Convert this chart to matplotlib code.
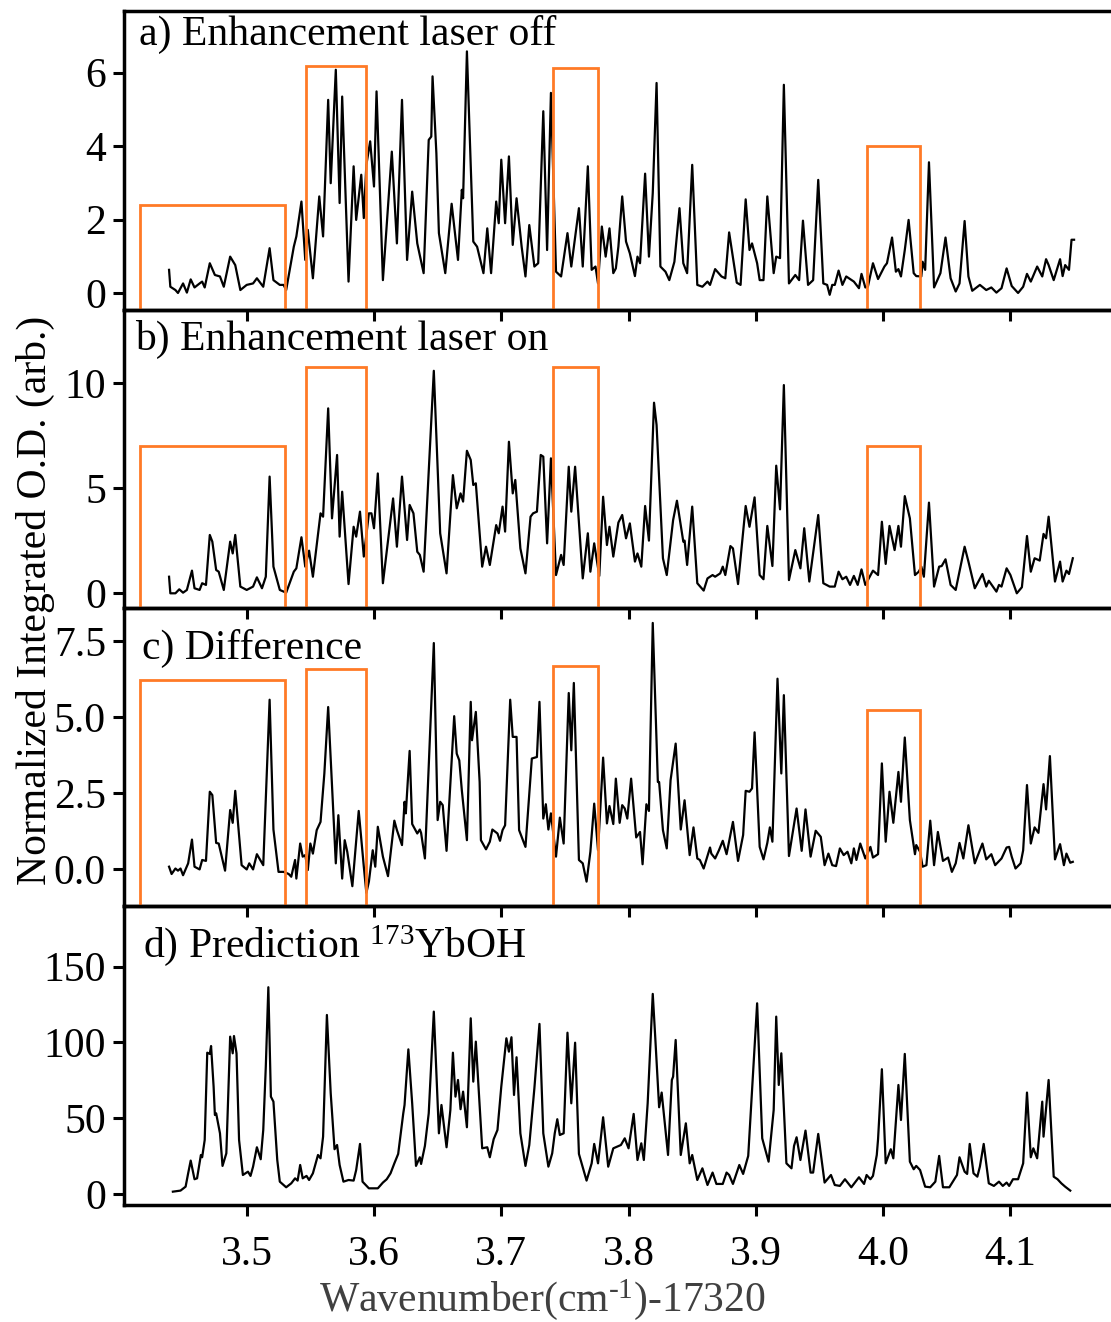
import matplotlib
matplotlib.use("Agg")
import matplotlib.pyplot as plt
from matplotlib.patches import Rectangle
from matplotlib.ticker import FormatStrFormatter

plt.rcParams['font.family'] = ['Liberation Serif', 'DejaVu Serif']
plt.rcParams['mathtext.fontset'] = 'custom'
plt.rcParams['mathtext.rm'] = 'Liberation Serif'
plt.rcParams['mathtext.it'] = 'Liberation Serif:italic'

# ---------------- data (wavenumber offset, value) ----------------
spec_a = [(3.439,0.63),(3.440,0.17),(3.444,0.08),(3.446,0.00),(3.450,0.26),(3.453,0.01),(3.456,0.37),(3.459,0.15),
          (3.463,0.26),(3.465,0.31),(3.467,0.15),(3.471,0.81),(3.475,0.49),(3.479,0.45),(3.482,0.17),(3.487,0.99),
          (3.491,0.76),(3.495,0.08),(3.500,0.22),(3.505,0.26),(3.508,0.40),(3.513,0.17),(3.518,1.22),(3.521,0.35),
          (3.526,0.22),(3.529,0.22),(3.531,0.08),(3.537,1.26),(3.539,1.54),(3.543,2.49),(3.546,0.90),(3.548,1.72),
          (3.552,0.40),(3.557,2.63),(3.560,1.54),(3.564,5.26),(3.566,2.99),(3.570,6.08),(3.573,2.45),(3.575,5.35),
          (3.580,0.31),(3.584,3.45),(3.586,1.99),(3.590,3.22),(3.592,2.04),(3.594,3.49),(3.597,4.13),(3.600,2.90),
          (3.602,5.49),(3.607,0.35),(3.614,3.85),(3.618,1.35),(3.622,5.26),(3.626,0.90),(3.630,2.76),(3.634,1.35),
          (3.639,0.54),(3.643,4.17),(3.645,4.26),(3.646,5.90),(3.649,3.81),(3.651,1.63),(3.656,0.54),(3.661,2.43),
          (3.666,0.90),(3.669,2.81),(3.670,2.58),(3.673,6.58),(3.678,1.40),(3.681,1.26),(3.686,0.54),(3.689,1.76),
          (3.692,0.54),(3.696,2.49),(3.698,1.90),(3.700,3.63),(3.703,1.90),(3.706,3.72),(3.709,1.31),(3.712,2.58),
          (3.716,1.26),(3.719,0.45),(3.722,1.85),(3.726,0.72),(3.729,0.81),(3.733,4.95),(3.736,1.17),(3.739,5.45),
          (3.743,0.58),(3.747,0.45),(3.752,1.63),(3.755,0.72),(3.761,2.31),(3.764,0.72),(3.768,3.45),(3.771,0.63),
          (3.774,0.72),(3.776,0.26),(3.779,1.81),(3.782,0.99),(3.785,1.76),(3.788,0.54),(3.790,0.67),(3.792,1.26),
          (3.795,2.63),(3.798,1.40),(3.801,1.08),(3.805,0.46),(3.807,0.99),(3.809,0.81),(3.813,3.25),(3.816,0.99),
          (3.819,2.72),(3.822,5.72),(3.825,0.72),(3.829,0.58),(3.832,0.35),(3.836,0.85),(3.840,2.31),(3.843,0.81),
          (3.846,0.54),(3.850,3.49),(3.854,0.22),(3.858,0.17),(3.862,0.31),(3.864,0.22),(3.868,0.65),(3.873,0.45),
          (3.876,0.40),(3.879,1.65),(3.885,0.28),(3.888,0.22),(3.892,2.55),(3.895,1.17),(3.897,1.35),(3.901,0.81),
          (3.903,0.35),(3.906,0.35),(3.909,2.63),(3.914,0.54),(3.916,0.99),(3.919,0.95),(3.922,5.67),(3.926,0.26),
          (3.931,0.49),(3.934,0.35),(3.937,1.97),(3.941,0.22),(3.945,0.35),(3.949,3.08),(3.953,0.26),(3.956,0.22),
          (3.958,-0.05),(3.960,0.22),(3.962,0.22),(3.965,0.61),(3.968,0.22),(3.971,0.45),(3.977,0.31),(3.981,0.13),
          (3.983,0.52),(3.986,0.15),(3.988,0.17),(3.992,0.81),(3.996,0.38),(4.001,0.72),(4.003,0.81),(4.007,1.51),
          (4.010,0.58),(4.012,0.65),(4.014,0.45),(4.017,1.17),(4.020,1.99),(4.024,0.54),(4.026,0.46),(4.030,0.45),
          (4.031,0.85),(4.033,0.63),(4.036,3.56),(4.040,0.15),(4.045,0.54),(4.049,1.51),(4.053,0.40),(4.057,0.04),
          (4.060,0.26),(4.064,1.96),(4.067,0.45),(4.070,0.06),(4.076,0.22),(4.081,0.08),(4.085,0.15),(4.089,0.01),
          (4.093,0.13),(4.097,0.67),(4.101,0.19),(4.106,0.00),(4.110,0.17),(4.113,0.52),(4.116,0.31),(4.121,0.72),
          (4.125,0.45),(4.128,0.92),(4.130,0.76),(4.134,0.35),(4.139,0.92),(4.141,0.46),(4.143,0.76),(4.146,0.63),
          (4.148,1.45),(4.150,1.45)]

spec_b = [(3.439,0.79),(3.440,0.00),(3.444,0.00),(3.447,0.19),(3.450,0.03),(3.453,0.16),(3.457,1.08),(3.459,0.24),
          (3.463,0.16),(3.465,0.48),(3.468,0.40),(3.471,2.78),(3.473,2.46),(3.476,1.11),(3.478,1.03),(3.482,0.16),
          (3.487,2.46),(3.489,1.90),(3.491,2.78),(3.495,0.32),(3.500,0.16),(3.505,0.32),(3.508,0.76),(3.512,0.24),
          (3.515,0.79),(3.518,5.56),(3.521,1.27),(3.526,0.16),(3.531,0.03),(3.537,1.03),(3.539,1.19),(3.543,2.67),
          (3.546,1.27),(3.549,2.03),(3.552,0.79),(3.558,3.81),(3.560,3.65),(3.564,8.81),(3.567,3.57),(3.571,6.59),
          (3.573,2.70),(3.575,4.84),(3.580,0.44),(3.584,3.17),(3.586,2.70),(3.589,3.89),(3.592,1.75),(3.596,3.81),
          (3.598,3.81),(3.600,3.10),(3.603,5.71),(3.607,0.48),(3.615,4.52),(3.618,2.22),(3.622,5.56),(3.626,2.54),
          (3.628,4.21),(3.631,3.81),(3.634,1.98),(3.636,1.83),(3.639,1.03),(3.647,10.60),(3.652,2.86),(3.657,0.95),
          (3.662,5.63),(3.665,4.05),(3.668,4.76),(3.670,4.37),(3.673,6.79),(3.676,6.35),(3.678,5.16),(3.680,5.24),
          (3.685,1.27),(3.688,2.22),(3.691,1.35),(3.696,3.25),(3.698,2.86),(3.701,4.13),(3.703,2.94),(3.706,7.22),
          (3.709,4.76),(3.711,5.40),(3.715,2.14),(3.719,0.95),(3.723,3.65),(3.725,3.81),(3.728,3.89),(3.731,6.59),
          (3.733,6.51),(3.736,2.38),(3.739,6.43),(3.743,0.87),(3.747,1.83),(3.749,1.35),(3.753,6.03),(3.755,3.89),
          (3.758,6.03),(3.764,0.71),(3.768,2.86),(3.770,1.03),(3.773,2.38),(3.777,0.83),(3.780,4.60),(3.783,2.30),
          (3.785,3.17),(3.788,1.75),(3.792,3.37),(3.795,3.73),(3.798,2.62),(3.801,3.33),(3.805,1.51),(3.807,1.90),
          (3.810,1.27),(3.813,4.16),(3.816,2.51),(3.820,9.08),(3.822,8.02),(3.827,1.67),(3.830,0.87),(3.835,3.49),
          (3.838,4.41),(3.843,2.46),(3.844,2.51),(3.846,1.35),(3.850,4.13),(3.854,0.48),(3.859,0.13),(3.862,0.71),
          (3.866,0.87),(3.868,0.79),(3.872,0.95),(3.874,1.27),(3.876,0.87),(3.880,2.25),(3.882,2.14),(3.886,0.44),
          (3.892,4.16),(3.895,3.17),(3.899,4.57),(3.903,0.87),(3.906,0.67),(3.909,3.21),(3.913,1.30),(3.916,6.08),
          (3.919,4.00),(3.922,9.92),(3.926,0.63),(3.931,2.06),(3.935,1.19),(3.938,3.10),(3.942,0.56),(3.949,3.73),
          (3.953,0.48),(3.958,0.32),(3.962,0.32),(3.965,1.03),(3.968,0.67),(3.971,0.79),(3.974,0.40),(3.977,0.83),
          (3.980,0.40),(3.983,1.14),(3.986,0.40),(3.992,1.08),(3.996,0.87),(3.999,3.41),(4.002,1.40),(4.005,3.21),
          (4.009,2.06),(4.012,3.21),(4.014,2.22),(4.017,4.63),(4.021,3.57),(4.025,0.87),(4.028,1.03),(4.030,1.27),
          (4.032,0.79),(4.036,4.32),(4.040,0.32),(4.044,1.27),(4.046,1.30),(4.049,1.62),(4.053,0.40),(4.057,0.16),
          (4.064,2.22),(4.067,1.51),(4.072,0.24),(4.078,0.92),(4.081,0.32),(4.083,0.60),(4.089,0.08),(4.091,0.40),
          (4.093,0.32),(4.097,1.19),(4.100,0.87),(4.105,0.00),(4.109,0.29),(4.113,2.73),(4.116,1.03),(4.119,1.67),
          (4.123,1.56),(4.126,2.83),(4.128,2.62),(4.130,3.65),(4.135,0.56),(4.139,1.51),(4.141,0.56),(4.144,1.08),
          (4.146,0.92),(4.149,1.67)]

spec_c = [(3.439,0.09),(3.441,-0.15),(3.444,0.03),(3.446,-0.04),(3.448,0.03),(3.450,-0.19),(3.454,0.20),(3.457,0.98),
          (3.459,0.09),(3.463,0.00),(3.465,0.31),(3.468,0.28),(3.471,2.55),(3.473,2.44),(3.476,0.87),(3.478,0.85),
          (3.483,-0.04),(3.487,1.95),(3.489,1.53),(3.491,2.58),(3.496,0.14),(3.500,0.00),(3.502,0.20),(3.505,0.00),
          (3.508,0.50),(3.513,0.14),(3.518,5.57),(3.521,1.31),(3.525,-0.08),(3.529,-0.08),(3.533,-0.15),(3.535,-0.24),
          (3.538,0.31),(3.539,-0.30),(3.542,0.85),(3.544,0.42),(3.546,0.47),(3.548,-0.02),(3.550,0.85),(3.552,0.52),
          (3.555,1.29),(3.558,1.56),(3.561,3.15),(3.564,5.33),(3.570,0.20),(3.572,1.78),(3.575,-0.30),(3.577,0.96),
          (3.579,0.58),(3.583,-0.55),(3.588,1.92),(3.592,0.09),(3.594,-0.77),(3.596,-0.40),(3.599,0.63),(3.601,0.09),
          (3.603,1.40),(3.607,0.42),(3.611,-0.22),(3.616,1.60),(3.618,1.29),(3.622,0.80),(3.624,2.22),(3.625,1.84),
          (3.628,3.89),(3.630,1.49),(3.634,1.18),(3.636,1.31),(3.637,1.20),(3.640,0.36),(3.647,7.43),(3.650,1.62),
          (3.652,2.22),(3.654,2.11),(3.657,0.61),(3.663,5.03),(3.665,3.80),(3.667,3.58),(3.669,2.60),(3.673,0.96),
          (3.676,5.50),(3.677,4.24),(3.680,5.17),(3.683,2.87),(3.684,0.96),(3.688,0.66),(3.691,0.91),(3.693,1.31),
          (3.697,1.18),(3.699,0.94),(3.701,1.29),(3.703,1.45),(3.707,5.57),(3.709,4.35),(3.712,4.35),(3.714,1.29),
          (3.719,0.74),(3.724,3.64),(3.728,3.69),(3.730,5.50),(3.733,1.67),(3.735,2.14),(3.737,1.31),(3.739,1.84),
          (3.743,0.42),(3.746,1.70),(3.749,0.85),(3.753,5.79),(3.755,3.91),(3.757,6.12),(3.761,0.31),(3.764,0.20),
          (3.767,-0.40),(3.770,0.58),(3.773,2.16),(3.776,0.63),(3.780,3.67),(3.783,1.51),(3.785,2.08),(3.788,1.49),
          (3.790,2.98),(3.793,1.53),(3.795,2.11),(3.797,2.00),(3.799,1.67),(3.802,2.98),(3.806,1.05),(3.809,1.23),
          (3.811,0.17),(3.814,2.14),(3.816,1.92),(3.819,8.09),(3.823,2.87),(3.824,2.87),(3.827,1.29),(3.830,0.69),
          (3.833,2.93),(3.837,4.13),(3.841,1.31),(3.844,2.27),(3.848,0.47),(3.851,1.38),(3.854,0.36),(3.856,0.31),
          (3.859,0.03),(3.864,0.72),(3.865,0.52),(3.868,0.36),(3.871,0.63),(3.874,0.94),(3.877,0.50),(3.882,1.56),
          (3.886,0.28),(3.890,1.13),(3.892,2.58),(3.895,2.55),(3.897,2.66),(3.899,4.50),(3.903,0.74),(3.906,0.33),
          (3.909,0.87),(3.911,1.38),(3.913,0.91),(3.917,6.26),(3.920,3.15),(3.922,5.72),(3.926,0.44),(3.932,2.00),
          (3.936,0.61),(3.939,1.97),(3.943,0.42),(3.947,1.27),(3.951,1.07),(3.954,0.14),(3.957,0.52),(3.960,0.14),
          (3.963,0.11),(3.966,0.69),(3.969,0.47),(3.972,0.58),(3.975,0.20),(3.977,0.69),(3.979,0.31),(3.982,0.85),
          (3.986,0.36),(3.990,0.74),(3.992,0.39),(3.996,0.50),(3.999,3.48),(4.002,0.91),(4.005,2.55),(4.008,1.53),
          (4.012,3.20),(4.014,2.22),(4.017,4.33),(4.021,1.62),(4.025,0.50),(4.026,0.80),(4.029,0.58),(4.031,0.09),
          (4.034,0.14),(4.037,1.60),(4.040,0.14),(4.043,1.23),(4.047,0.28),(4.051,0.39),(4.054,-0.08),(4.057,0.20),
          (4.060,0.87),(4.063,0.36),(4.067,1.45),(4.072,0.20),(4.078,0.85),(4.081,0.33),(4.085,0.50),(4.088,0.14),
          (4.093,0.36),(4.097,0.72),(4.099,0.74),(4.101,0.42),(4.104,0.03),(4.108,0.20),(4.110,0.63),(4.113,2.77),
          (4.116,0.85),(4.119,1.38),(4.122,1.20),(4.126,2.80),(4.128,1.97),(4.131,3.72),(4.135,0.33),(4.139,0.83),
          (4.142,0.14),(4.144,0.52),(4.147,0.22),(4.149,0.25)]

spec_d = [(3.442,1.5),(3.448,2.2),(3.452,4.8),(3.454,13.6),(3.456,22.0),(3.459,9.7),(3.461,10.3),(3.464,25.7),
          (3.465,24.2),(3.467,35.6),(3.469,93.2),(3.471,92.4),(3.472,97.6),(3.474,70.8),(3.475,52.1),(3.476,53.2),
          (3.479,40.0),(3.481,18.5),(3.484,26.8),(3.487,103.8),(3.489,92.8),(3.490,104.2),(3.492,92.8),(3.494,35.6),
          (3.497,12.5),(3.501,14.7),(3.503,11.9),(3.505,18.0),(3.508,30.8),(3.511,22.9),(3.513,42.2),(3.515,84.0),
          (3.517,136.4),(3.519,64.2),(3.521,60.9),(3.524,22.4),(3.526,8.1),(3.531,4.4),(3.535,7.0),(3.538,10.3),
          (3.540,8.8),(3.542,19.1),(3.544,10.3),(3.547,11.9),(3.549,9.2),(3.552,13.6),(3.556,25.7),(3.558,23.5),
          (3.560,37.8),(3.563,118.1),(3.566,66.4),(3.569,29.5),(3.571,32.3),(3.573,19.1),(3.576,8.1),(3.580,9.2),
          (3.584,8.8),(3.586,15.8),(3.589,33.0),(3.591,8.1),(3.596,3.7),(3.603,3.7),(3.607,7.5),(3.610,9.7),
          (3.613,13.6),(3.616,20.2),(3.619,26.4),(3.623,53.2),(3.624,58.7),(3.627,95.4),(3.630,59.8),(3.633,18.5),
          (3.636,24.2),(3.637,19.8),(3.640,31.7),(3.643,53.2),(3.647,120.3),(3.651,40.0),(3.653,58.7),(3.657,30.8),
          (3.660,55.4),(3.662,93.2),(3.664,64.2),(3.666,75.2),(3.668,55.9),(3.670,67.5),(3.673,44.0),(3.676,115.9),
          (3.678,74.1),(3.680,100.5),(3.685,30.1),(3.689,30.8),(3.691,24.2),(3.694,36.1),(3.697,42.2),(3.700,70.8),
          (3.704,102.7),(3.706,93.9),(3.708,103.4),(3.710,65.3),(3.712,90.2),(3.715,40.0),(3.719,18.5),(3.722,32.3),
          (3.726,69.7),(3.730,112.2),(3.733,40.0),(3.737,18.0),(3.740,26.8),(3.742,40.0),(3.744,49.3),(3.746,38.9),
          (3.749,40.0),(3.752,106.4),(3.755,59.8),(3.758,99.8),(3.761,26.4),(3.767,8.8),(3.771,20.2),(3.773,33.0),
          (3.776,20.2),(3.780,50.6),(3.784,18.0),(3.788,30.1),(3.794,32.3),(3.797,36.7),(3.800,30.1),(3.804,52.8),
          (3.807,22.4),(3.810,33.4),(3.812,22.4),(3.815,59.8),(3.819,132.0),(3.821,102.7),(3.824,57.2),(3.826,66.9),
          (3.831,25.7),(3.834,75.2),(3.835,77.4),(3.837,101.6),(3.841,25.7),(3.845,46.6),(3.848,20.2),(3.850,25.7),
          (3.854,9.2),(3.858,16.9),(3.862,5.9),(3.866,14.1),(3.869,6.6),(3.874,6.6),(3.877,14.1),(3.879,12.5),
          (3.882,6.6),(3.887,19.1),(3.890,13.2),(3.894,25.1),(3.901,125.8),(3.905,36.7),(3.910,21.3),(3.914,55.4),
          (3.916,117.0),(3.918,71.9),(3.920,92.8),(3.924,20.2),(3.928,16.9),(3.930,31.7),(3.932,37.4),(3.935,22.4),
          (3.939,41.8),(3.943,14.1),(3.945,14.1),(3.949,39.6),(3.954,7.5),(3.959,12.5),(3.962,5.9),(3.966,5.3),
          (3.970,9.7),(3.975,4.4),(3.981,11.0),(3.985,6.6),(3.987,12.5),(3.990,9.7),(3.992,11.9),(3.995,25.7),
          (3.996,36.1),(3.999,82.3),(4.002,20.2),(4.006,29.5),(4.008,23.5),(4.012,71.9),(4.014,48.8),(4.017,92.4),
          (4.021,21.3),(4.024,16.3),(4.026,18.5),(4.029,15.8),(4.033,4.8),(4.037,4.4),(4.041,8.1),(4.044,25.1),
          (4.047,4.4),(4.052,4.4),(4.058,12.5),(4.060,24.2),(4.064,14.7),(4.066,13.2),(4.068,33.0),(4.071,13.6),
          (4.074,11.4),(4.076,18.0),(4.079,33.0),(4.083,7.0),(4.087,5.3),(4.091,8.1),(4.094,5.3),(4.097,7.5),
          (4.099,5.3),(4.102,9.7),(4.106,9.7),(4.110,20.2),(4.113,66.9),(4.116,24.2),(4.118,30.1),(4.121,23.5),
          (4.125,60.9),(4.126,37.8),(4.130,75.2),(4.134,11.4),(4.137,9.7),(4.140,7.0),(4.143,4.8),(4.147,2.2)]

panel_titles = ["a) Enhancement laser off", "b) Enhancement laser on", "c) Difference",
                r"d) Prediction $^{173}$YbOH"]
yticks = [[0, 2, 4, 6], [0, 5, 10], [0.0, 2.5, 5.0, 7.5], [0, 50, 100, 150]]
ylims = [(-0.45, 7.68), (-0.70, 13.52), (-1.20, 8.58), (-7.3, 190)]
xticks = [3.5, 3.6, 3.7, 3.8, 3.9, 4.0, 4.1]
xlim = (3.4036, 4.1816)

# highlighted regions: x ranges, and box top per panel (a, b, c)
box_x = [(3.4162, 3.5299), (3.5466, 3.5935), (3.7404, 3.7757), (3.9870, 4.0289)]
box_top = [[2.40, 6.19, 6.13, 4.01],
           [7.03, 10.76, 10.76, 7.03],
           [6.21, 6.58, 6.67, 5.22]]

# ---------------- figure ----------------
W, H = 1111, 1322
fig = plt.figure(figsize=(W / 100, H / 100), dpi=100)

left = 124 / W
right = 1114.3 / W
edges_px = [11, 309.5, 608, 906, 1205]
spectra = [spec_a, spec_b, spec_c, spec_d]
title_pos = [(0.0155, 0.886), (0.011, 0.864), (0.018, 0.828), (0.019, 0.828)]
orange = '#ff7a26'

axes = []
for i in range(4):
    top = 1 - edges_px[i] / H
    bot = 1 - edges_px[i + 1] / H
    ax = fig.add_axes([left, bot, right - left, top - bot])
    ax.patch.set_visible(False)
    xs, ys = zip(*spectra[i])
    ax.plot(xs, ys, color='black', lw=1.6, zorder=3)
    ax.set_xlim(*xlim)
    ax.set_ylim(*ylims[i])
    ax.set_yticks(yticks[i])
    if i == 2:
        ax.yaxis.set_major_formatter(FormatStrFormatter('%.1f'))
    ax.set_xticks(xticks)
    ax.tick_params(axis='both', direction='out', length=8, width=2.2,
                   labelsize=30, colors='black', pad=5)
    ax.tick_params(axis='x', pad=14)
    ax.tick_params(top=False, right=False)
    if i < 3:
        ax.tick_params(labelbottom=False)
    for s in ax.spines.values():
        s.set_linewidth(2.5)
    ax.text(title_pos[i][0], title_pos[i][1], panel_titles[i], transform=ax.transAxes,
            fontsize=30, ha='left', va='baseline')
    if i < 3:
        y0 = ylims[i][0]
        for (x0, x1), t in zip(box_x, box_top[i]):
            ax.add_patch(Rectangle((x0, y0), x1 - x0, t - y0, fill=False,
                                   edgecolor=orange, lw=2.0, zorder=4, clip_on=False))
    axes.append(ax)

fig.text(35 / W, 1 - 600 / H, "Normalized Integrated O.D. (arb.)", rotation=90,
         fontsize=30, ha='center', va='center')
fig.text(542 / W, 1 - 1300 / H, r"Wavenumber(cm$^{\text{-1}}$)-17320", fontsize=30,
         ha='center', va='center', color='#404040')

fig.savefig("out.png", dpi=100)
